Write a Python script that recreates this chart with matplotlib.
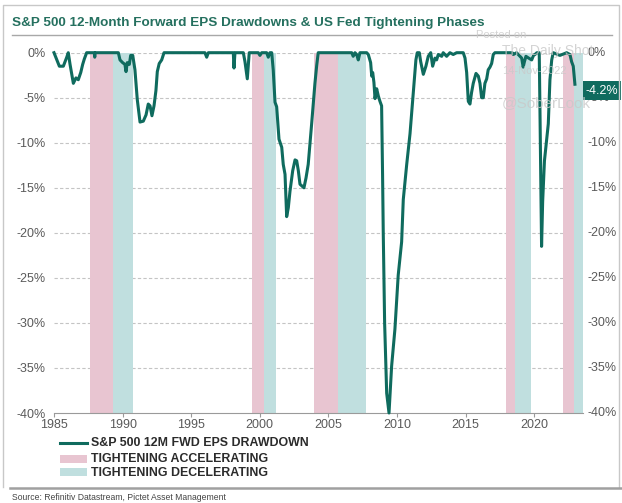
import matplotlib
matplotlib.use("Agg")
import matplotlib.pyplot as plt
import matplotlib.transforms as mtransforms
from matplotlib.patches import Rectangle
from matplotlib.lines import Line2D

# ---------------- data ----------------
years = [1985.0, 1985.39, 1985.68, 1985.93, 1986.04, 1986.17, 1986.41, 1986.6, 1986.77, 1986.95,
         1987.09, 1987.21, 1987.38, 1987.94, 1987.97, 1988.0, 1989.69, 1989.81, 1990.0, 1990.17,
         1990.25, 1990.34, 1990.49, 1990.59, 1990.74, 1990.9, 1991.07, 1991.27, 1991.51, 1991.71,
         1991.87, 1992.0, 1992.14, 1992.29, 1992.43, 1992.53, 1992.67, 1992.85, 1993.02,
         1996.0, 1996.13, 1996.25, 1998.07, 1998.12, 1998.19, 1998.8, 1998.92, 1999.09, 1999.23,
         1999.89, 2000.01, 2000.14, 2000.5, 2000.62, 2000.74, 2000.87, 2000.98, 2001.11, 2001.23,
         2001.4, 2001.6, 2001.71, 2001.84, 2001.96, 2002.08, 2002.2, 2002.4, 2002.57, 2002.69,
         2002.81, 2002.93, 2003.22, 2003.37, 2003.53, 2003.78, 2004.02, 2004.15, 2004.26,
         2006.7, 2006.81, 2006.94, 2007.06, 2007.18, 2007.3, 2007.79, 2007.91, 2008.08, 2008.16,
         2008.23, 2008.32, 2008.4, 2008.52, 2008.64, 2008.76, 2008.88, 2008.95, 2009.0, 2009.1,
         2009.25, 2009.42, 2009.61, 2009.85, 2010.09, 2010.34, 2010.46, 2010.71, 2010.95, 2011.19,
         2011.38, 2011.48, 2011.63, 2011.73, 2011.92, 2012.11, 2012.28, 2012.46, 2012.6, 2012.77,
         2012.89, 2013.01, 2013.26, 2013.37, 2013.62, 2013.86, 2014.1, 2014.35, 2014.83, 2014.96,
         2015.08, 2015.2, 2015.32, 2015.44, 2015.56, 2015.76, 2015.93, 2016.05, 2016.17, 2016.29,
         2016.41, 2016.54, 2016.65, 2016.78, 2016.9, 2017.02, 2017.14, 2018.4, 2018.48, 2018.72,
         2019.09, 2019.2, 2019.29, 2019.4, 2019.6, 2019.82, 2019.95, 2020.06, 2020.2, 2020.37,
         2020.42, 2020.54, 2020.62, 2020.75, 2021.03, 2021.15, 2021.28, 2021.39, 2021.88, 2022.37,
         2022.61, 2022.73, 2022.85, 2022.97]
drawdown = [0.0, -1.5, -1.5, -0.5, 0.0, -1.3, -3.4, -2.8, -3.0, -2.2,
            -1.3, -0.7, 0.0, 0.0, -0.5, 0.0, 0.0, -0.8, -1.1, -1.3,
            -2.1, -1.1, -1.3, -0.3, -0.3, -1.9, -5.2, -7.7, -7.6, -6.9,
            -5.7, -5.9, -7.0, -5.9, -4.2, -2.1, -1.2, -0.8, 0.0,
            0.0, -0.5, 0.0, 0.0, -1.7, 0.0, 0.0, -1.0, -2.9, 0.0,
            0.0, -0.3, 0.0, 0.0, -0.5, 0.0, 0.0, -1.9, -5.5, -6.0,
            -9.6, -10.5, -12.4, -13.5, -18.2, -17.2, -15.4, -13.1, -11.9, -12.0,
            -13.1, -14.6, -15.0, -13.9, -12.4, -7.9, -3.4, -1.4, 0.0,
            0.0, -0.4, 0.0, -0.2, -0.8, 0.0, 0.0, -0.2, -1.1, -2.6,
            -2.2, -3.3, -5.1, -4.0, -4.8, -5.4, -5.9, -13.5, -20.0, -30.0,
            -37.8, -40.0, -34.8, -30.7, -24.7, -21.0, -16.3, -12.4, -9.0, -4.5,
            -0.8, 0.0, 0.0, -1.0, -2.4, -1.5, -0.4, 0.0, -1.5, -0.6,
            -0.8, -0.2, -0.4, 0.0, -0.4, 0.0, -0.2, 0.0, 0.0, -0.6,
            -2.2, -5.4, -5.7, -4.4, -3.4, -2.3, -2.6, -3.4, -5.0, -5.0,
            -3.4, -2.9, -1.9, -1.6, -1.2, -0.2, 0.0, 0.0, -0.2, 0.0,
            -0.6, -1.6, -1.0, -0.4, -0.6, -0.8, -0.3, -0.2, 0.0, 0.0,
            -6.0, -21.5, -16.5, -12.0, -7.9, -3.0, -0.8, 0.0, -0.3, 0.0,
            -0.2, -1.0, -1.5, -3.5]

accel_start = [1987.62, 1999.41, 2003.95, 2017.98, 2022.08]
accel_end = [1989.28, 2000.33, 2005.68, 2018.61, 2022.94]
decel_start = [1989.28, 2000.33, 2005.68, 2018.61, 2022.94]
decel_end = [1990.74, 2001.18, 2007.72, 2019.80, 2023.56]

x_ticks = [1985, 1990, 1995, 2000, 2005, 2010, 2015, 2020]
y_ticks = [0, -5, -10, -15, -20, -25, -30, -35, -40]
y_labels = ["0%", "-5%", "-10%", "-15%", "-20%", "-25%", "-30%", "-35%", "-40%"]
last_label = "-4.2%"
last_value = -4.2

title = "S&P 500 12-Month Forward EPS Drawdowns & US Fed Tightening Phases"
legend_labels = ["S&P 500 12M FWD EPS DRAWDOWN", "TIGHTENING ACCELERATING", "TIGHTENING DECELERATING"]
source = "Source: Refinitiv Datastream, Pictet Asset Management"

# ---------------- style ----------------
LINE = "#0f6b5e"
PINK = "#e8c5d1"
TEAL = "#c0dfdf"
TICK = "#5a5a5a"
plt.rcParams['font.family'] = ['Liberation Sans', 'DejaVu Sans']

W, H = 622, 503
fig = plt.figure(figsize=(W / 100, H / 100), dpi=100)
fig.patch.set_facecolor("white")


def fx(x):
    return x / W


def fy(y):
    return 1 - y / H


ax_l, ax_r, ax_t, ax_b = 54, 583, 52.7, 413
ax = fig.add_axes([fx(ax_l), fy(ax_b), (ax_r - ax_l) / W, (ax_b - ax_t) / H])
ax.set_xlim(1985, 2023.56)
ax.set_ylim(-40, 0)

for s, e in zip(accel_start, accel_end):
    ax.axvspan(s, e, color=PINK, lw=0, zorder=1)
for s, e in zip(decel_start, decel_end):
    ax.axvspan(s, e, color=TEAL, lw=0, zorder=1)

for v in y_ticks[:-1]:
    ax.axhline(v, color="#c4c4c4", lw=0.8, ls=(0, (3, 2)), zorder=0.5)

ax.plot(years, drawdown, color=LINE, lw=2.2, zorder=3, clip_on=False,
        solid_joinstyle="round")

for sp in ["top", "right", "left"]:
    ax.spines[sp].set_visible(False)
ax.spines["bottom"].set_color("#9a9a9a")
ax.spines["bottom"].set_linewidth(0.8)

ax.set_xticks(x_ticks)
ax.set_xticklabels([str(t) for t in x_ticks])
ax.tick_params(axis="x", colors="#9a9a9a", labelcolor=TICK, labelsize=9, length=3, width=0.8, pad=1)
ax.set_yticks(y_ticks)
ax.set_yticklabels(y_labels)
ax.tick_params(axis="y", length=0, labelcolor=TICK, labelsize=9, pad=6)

# right side labels
trans = mtransforms.blended_transform_factory(ax.transAxes, ax.transData)
for v, lab in zip(y_ticks, y_labels):
    ax.text(1.0 + 5 / (ax_r - ax_l), v, lab, transform=trans, ha="left", va="center",
            fontsize=9, color=TICK, zorder=2)
ax.text(1.0 + 19 / (ax_r - ax_l), last_value, last_label, transform=trans, ha="center",
        va="center", fontsize=9, color="white", zorder=6, clip_on=False,
        bbox=dict(boxstyle="square,pad=0.25", facecolor=LINE, edgecolor="none"))

# watermark
wm = "#c9c9c9"
fig.text(fx(476), fy(35), "Posted on", fontsize=8, color=wm, alpha=0.8, va="center")
fig.text(fx(502), fy(51), "The Daily Shot", fontsize=10, color=wm, alpha=0.8, va="center")
fig.text(fx(502), fy(71), "14-Nov-2022", fontsize=8, color=wm, alpha=0.8, va="center")
fig.text(fx(502), fy(103), "@SoberLook", fontsize=11, color=wm, alpha=0.8, va="center")

# title
fig.text(fx(12), fy(23), title, fontsize=9.7, fontweight="bold", color="#25705f", va="center")
fig.add_artist(Line2D([fx(12), fx(612)], [fy(35), fy(35)], color="#a8a8a8", lw=1.0))

# border
fig.add_artist(Line2D([fx(3), fx(3), fx(619), fx(619)], [fy(487), fy(5), fy(5), fy(487)],
                      color="#c8c8c8", lw=1.0))
fig.add_artist(Line2D([fx(10), fx(622)], [fy(488), fy(488)], color="#a0a0a0", lw=1.8))
fig.text(fx(12), fy(498), source, fontsize=6.2, color="#444444", va="center")

# legend
fig.add_artist(Line2D([fx(60), fx(87)], [fy(443), fy(443)], color=LINE, lw=2.2))
fig.add_artist(Rectangle((fx(60), fy(463)), fx(27), 8 / H, facecolor=PINK, edgecolor="none"))
fig.add_artist(Rectangle((fx(60), fy(476)), fx(27), 8 / H, facecolor=TEAL, edgecolor="none"))
for yy, lab in zip([443, 459, 472.5], legend_labels):
    fig.text(fx(91), fy(yy), lab, fontsize=8.9, fontweight="bold", color="#2b2b2b",
             va="center")

fig.savefig("out.png", dpi=100)
